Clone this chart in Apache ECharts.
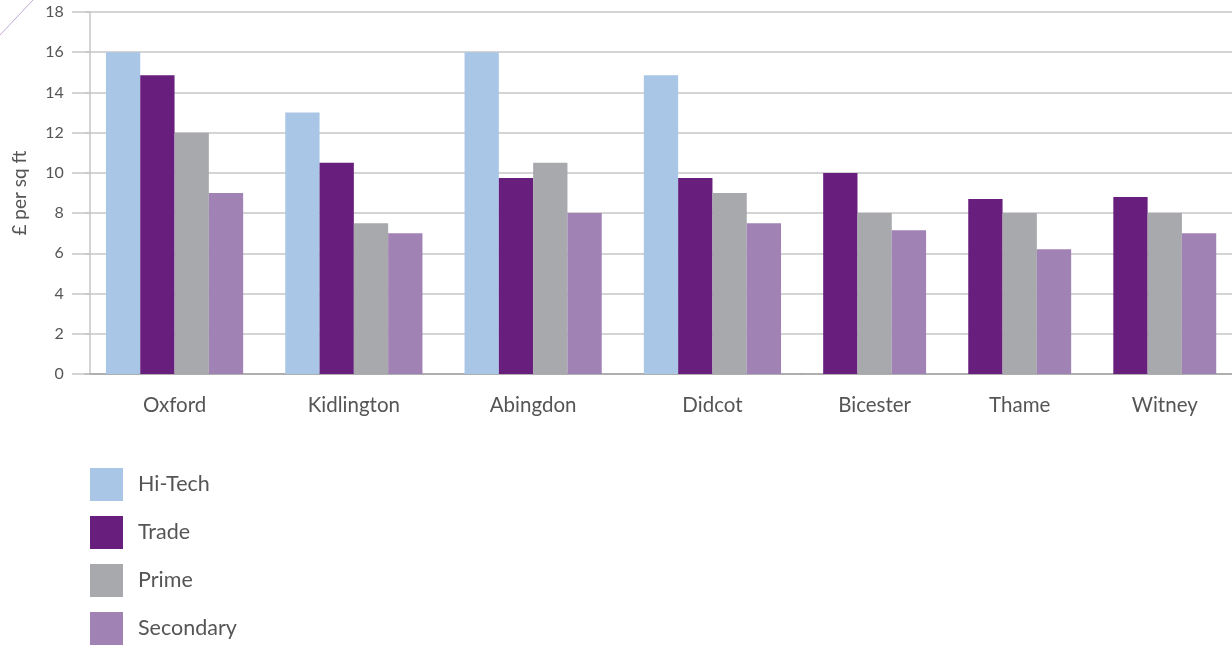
<!DOCTYPE html>
<html>
<head>
<meta charset="utf-8">
<script src="https://cdn.jsdelivr.net/npm/echarts@6/dist/echarts.min.js"></script>
<style>
html, body { margin: 0; padding: 0; background: #fff; overflow: hidden; }
#chart { width: 1238px; height: 648px; }
</style>
</head>
<body>
<div id="chart"></div>
<script>
// ---- data ----
const categories = ['Oxford', 'Kidlington', 'Abingdon', 'Didcot', 'Bicester', 'Thame', 'Witney'];
const hiTech    = [16, 13, 16, 14.85, null, null, null];
const trade     = [14.85, 10.5, 9.75, 9.75, 10, 8.7, 8.8];
const prime     = [12, 7.5, 10.5, 9, 8, 8, 8];
const secondary = [9, 7, 8, 7.5, 7.15, 6.2, 7];
const yTicks = [0, 2, 4, 6, 8, 10, 12, 14, 16, 18];
const yTitle = '£ per sq ft';
const seriesNames = ['Hi-Tech', 'Trade', 'Prime', 'Secondary'];
const colors = ['#a9c6e6', '#671e7c', '#a8a9ad', '#a082b4'];

// split categories: those with Hi-Tech values (4 bars) and those without (3 bars)
const idxA = categories.map((c, i) => i).filter(i => hiTech[i] != null);
const idxB = categories.map((c, i) => i).filter(i => hiTech[i] == null);
const pick = (arr, idx) => idx.map(i => arr[i]);

const FONT = 'Lato, "Open Sans", sans-serif';
const TXT = '#555555';
const GRID = '#c6c6c6';

const chart = echarts.init(document.getElementById('chart'), null, { renderer: 'canvas' });

const yCommon = {
  type: 'value', min: yTicks[0], max: yTicks[yTicks.length - 1], interval: yTicks[1] - yTicks[0],
  splitLine: { show: true, lineStyle: { color: GRID, width: 1.5 } }
};

const barW = 34.3;
const mk = (name, data, axis) => ({
  name, type: 'bar', data, xAxisIndex: axis, yAxisIndex: axis,
  barWidth: barW, barGap: '0%',
  itemStyle: { color: colors[seriesNames.indexOf(name)] },
  emphasis: { disabled: true }, animation: false
});

chart.setOption({
  animation: false,
  textStyle: { fontFamily: FONT },
  grid: [
    { left: 84.9, top: 12, width: 717.2, height: 362, containLabel: false },
    { left: 802.1, top: 12, width: 435.2, height: 362, containLabel: false }
  ],
  xAxis: [
    { type: 'category', gridIndex: 0, data: pick(categories, idxA),
      axisLine: { lineStyle: { color: '#a3a3a3', width: 1.5 } }, axisTick: { show: false },
      axisLabel: { color: TXT, fontSize: 20.5, margin: 21, fontFamily: FONT } },
    { type: 'category', gridIndex: 1, data: pick(categories, idxB),
      axisLine: { lineStyle: { color: '#a3a3a3', width: 1.5 } }, axisTick: { show: false },
      axisLabel: { color: TXT, fontSize: 20.5, margin: 21, fontFamily: FONT } }
  ],
  yAxis: [
    Object.assign({}, yCommon, {
      gridIndex: 0, offset: -5,
      name: yTitle, nameLocation: 'middle', nameRotate: 90, nameGap: 61,
      nameTextStyle: { color: TXT, fontSize: 19, fontFamily: FONT },
      axisLine: { show: true, lineStyle: { color: GRID, width: 1.5 } },
      axisTick: { show: true, length: 18, lineStyle: { color: GRID, width: 1.5 } },
      axisLabel: { color: TXT, fontSize: 16, margin: 26, fontFamily: FONT }
    }),
    Object.assign({}, yCommon, {
      gridIndex: 1,
      axisLine: { show: false }, axisTick: { show: false }, axisLabel: { show: false }
    })
  ],
  legend: {
    orient: 'vertical', left: 90, top: 468, padding: 0,
    itemWidth: 33, itemHeight: 33, itemGap: 15, icon: 'rect',
    data: seriesNames,
    selectedMode: false,
    textStyle: { color: TXT, fontSize: 21.5, fontFamily: FONT, padding: [0, 0, 0, 10] }
  },
  graphic: [
    { type: 'line', shape: { x1: 0, y1: 35, x2: 33, y2: 0 }, style: { stroke: '#c2a8d6', lineWidth: 1 } }
  ],
  series: [
    mk('Hi-Tech', pick(hiTech, idxA), 0),
    mk('Trade', pick(trade, idxA), 0),
    mk('Prime', pick(prime, idxA), 0),
    mk('Secondary', pick(secondary, idxA), 0),
    mk('Trade', pick(trade, idxB), 1),
    mk('Prime', pick(prime, idxB), 1),
    mk('Secondary', pick(secondary, idxB), 1)
  ]
});
</script>
</body>
</html>
